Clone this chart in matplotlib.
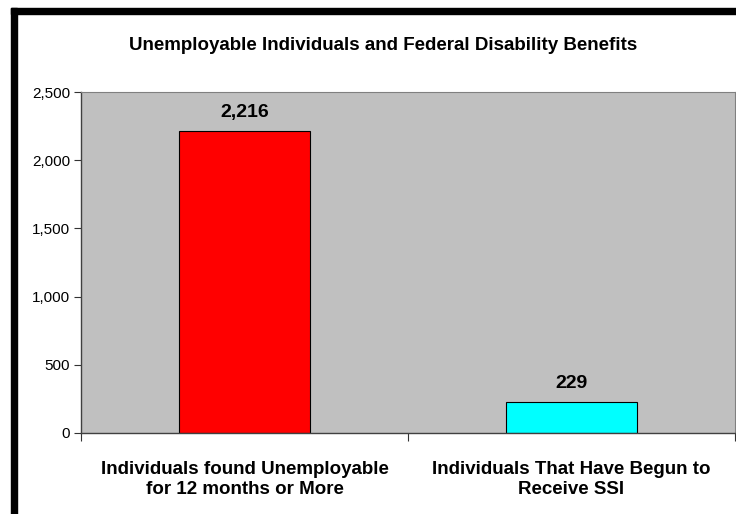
import matplotlib.pyplot as plt
from matplotlib.patches import Rectangle
from matplotlib.ticker import FuncFormatter

plt.rcParams['font.family'] = ['Liberation Sans', 'DejaVu Sans']

categories = ['Individuals found Unemployable\nfor 12 months or More',
              'Individuals That Have Begun to\nReceive SSI']
values = [2216, 229]
colors = ['#FF0000', '#00FFFF']

fig = plt.figure(figsize=(7.36, 5.14), dpi=100)
ax = fig.add_axes([81/736, 81/514, 654/736, 341/514])
ax.set_facecolor('#C0C0C0')

x = [0.5, 1.5]
ax.bar(x, values, width=0.4, color=colors, edgecolor='black', linewidth=0.8, zorder=2)
for xi, v in zip(x, values):
    ax.text(xi, v + 75, f'{v:,}', ha='center', va='bottom', fontsize=14, fontweight='bold')

ax.set_xlim(0, 2)
ax.set_ylim(0, 2500)
ax.set_yticks(range(0, 2501, 500))
ax.yaxis.set_major_formatter(FuncFormatter(lambda v, p: f'{int(v):,}'))
ax.set_xticks([0, 1, 2])
ax.set_xticklabels([])
ax.set_xticks(x, minor=True)
ax.set_xticklabels(categories, minor=True, fontsize=13.5, fontweight='bold', linespacing=1.25)
ax.tick_params(axis='x', which='minor', length=0, pad=20)
ax.tick_params(axis='x', which='major', length=6, width=0.8, color='#333333')
ax.tick_params(axis='y', length=5, width=0.8, labelsize=11, color='#333333', pad=3)

for s in ['top', 'right']:
    ax.spines[s].set_color('#808080')
    ax.spines[s].set_linewidth(0.8)
for s in ['left', 'bottom']:
    ax.spines[s].set_color('#404040')
    ax.spines[s].set_linewidth(1.0)

fig.text(383/736, 1 - 45/514, 'Unemployable Individuals and Federal Disability Benefits',
         ha='center', va='center', fontsize=13.5, fontweight='bold')

# black frame on the left and top edges
fig.patches.append(Rectangle((11/736, 0), 6/736, 1 - 8/514, transform=fig.transFigure,
                             color='black', zorder=10))
fig.patches.append(Rectangle((11/736, 1 - 14/514), 1, 6/514, transform=fig.transFigure,
                             color='black', zorder=10))

fig.savefig('out.png', dpi=100)
